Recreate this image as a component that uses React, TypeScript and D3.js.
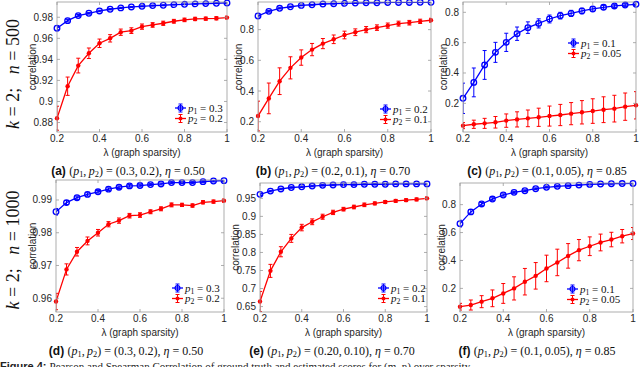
import React from 'react';
import * as d3 from 'd3';

// lambda values on the x axis
const lambdas = [0.2, 0.25, 0.3, 0.35, 0.4, 0.45, 0.5, 0.55, 0.6, 0.65, 0.7, 0.75, 0.8, 0.85, 0.9, 0.95, 1.0];
const xTicks = [0.2, 0.4, 0.6, 0.8, 1];

// (a)
const aP1 = [0.9696, 0.9768, 0.9816, 0.9838, 0.986, 0.9876, 0.9889, 0.9898, 0.9904, 0.9911, 0.9914, 0.992, 0.9923, 0.9927, 0.993, 0.9933, 0.9936];
const aP1Err = [0.0015, 0.0012, 0.001, 0.0008, 0.0007, 0.0006, 0.0006, 0.0005, 0.0005, 0.0005, 0.0005, 0.0004, 0.0004, 0.0004, 0.0004, 0.0004, 0.0004];
const aP2 = [0.8841, 0.9145, 0.9341, 0.9458, 0.9553, 0.96, 0.9658, 0.9673, 0.9711, 0.9727, 0.9743, 0.9762, 0.9775, 0.9784, 0.9787, 0.979, 0.9797];
const aP2Err = [0.0114, 0.0087, 0.007, 0.005, 0.004, 0.0035, 0.003, 0.0027, 0.0025, 0.0022, 0.002, 0.0018, 0.0017, 0.0016, 0.0015, 0.0015, 0.0014];
// (b)
const bP1 = [0.889, 0.919, 0.939, 0.949, 0.958, 0.962, 0.967, 0.969, 0.971, 0.973, 0.975, 0.975, 0.977, 0.977, 0.977, 0.978, 0.978];
const bP1Err = [0.006, 0.005, 0.004, 0.004, 0.003, 0.003, 0.003, 0.003, 0.003, 0.002, 0.002, 0.002, 0.002, 0.002, 0.002, 0.002, 0.002];
const bP2 = [0.237, 0.352, 0.464, 0.551, 0.618, 0.67, 0.709, 0.737, 0.765, 0.783, 0.8, 0.813, 0.826, 0.839, 0.845, 0.854, 0.861];
const bP2Err = [0.097, 0.1, 0.087, 0.072, 0.05, 0.04, 0.033, 0.028, 0.025, 0.022, 0.02, 0.018, 0.017, 0.016, 0.015, 0.014, 0.013];
// (c)
const cP1 = [0.233, 0.338, 0.453, 0.536, 0.602, 0.659, 0.699, 0.727, 0.756, 0.778, 0.793, 0.809, 0.822, 0.833, 0.842, 0.848, 0.853];
const cP1Err = [0.1, 0.095, 0.095, 0.066, 0.06, 0.044, 0.038, 0.03, 0.026, 0.022, 0.02, 0.018, 0.015, 0.013, 0.011, 0.009, 0.009];
const cP2 = [0.053, 0.062, 0.068, 0.075, 0.086, 0.094, 0.101, 0.108, 0.116, 0.123, 0.132, 0.141, 0.149, 0.158, 0.165, 0.178, 0.187];
const cP2Err = [0.02, 0.027, 0.033, 0.038, 0.044, 0.05, 0.055, 0.06, 0.066, 0.07, 0.073, 0.077, 0.081, 0.085, 0.088, 0.09, 0.09];
// (d)
const dP1 = [0.9864, 0.9892, 0.9907, 0.9917, 0.9925, 0.9933, 0.9939, 0.9943, 0.9944, 0.9947, 0.9949, 0.9953, 0.9953, 0.9953, 0.9956, 0.9958, 0.9959];
const dP1Err = [0.001, 0.0006, 0.0005, 0.0005, 0.0004, 0.0004, 0.0004, 0.0004, 0.0004, 0.0003, 0.0003, 0.0003, 0.0003, 0.0003, 0.0003, 0.0003, 0.0003];
const dP2 = [0.959, 0.9688, 0.9742, 0.9775, 0.98, 0.9826, 0.9837, 0.9852, 0.9854, 0.9864, 0.9873, 0.9885, 0.9885, 0.9883, 0.9893, 0.9895, 0.9898];
const dP2Err = [0.0025, 0.0017, 0.0013, 0.0012, 0.001, 0.0008, 0.0008, 0.0007, 0.0007, 0.0006, 0.0006, 0.0006, 0.0005, 0.0005, 0.0005, 0.0005, 0.0005];
// (e)
const eP1 = [0.961, 0.97, 0.976, 0.98, 0.982, 0.984, 0.986, 0.987, 0.988, 0.988, 0.989, 0.989, 0.989, 0.99, 0.99, 0.99, 0.99];
const eP1Err = [0.003, 0.002, 0.002, 0.002, 0.002, 0.002, 0.002, 0.002, 0.002, 0.002, 0.002, 0.002, 0.002, 0.002, 0.002, 0.002, 0.002];
const eP2 = [0.664, 0.749, 0.802, 0.839, 0.869, 0.885, 0.899, 0.911, 0.92, 0.926, 0.932, 0.936, 0.94, 0.943, 0.945, 0.947, 0.95];
const eP2Err = [0.028, 0.018, 0.014, 0.011, 0.009, 0.008, 0.007, 0.006, 0.005, 0.005, 0.005, 0.004, 0.004, 0.004, 0.004, 0.004, 0.004];
// (f)
const fP1 = [0.664, 0.748, 0.805, 0.84, 0.869, 0.888, 0.9, 0.914, 0.924, 0.931, 0.936, 0.94, 0.945, 0.948, 0.95, 0.951, 0.952];
const fP1Err = [0.024, 0.017, 0.01, 0.009, 0.008, 0.007, 0.006, 0.006, 0.005, 0.005, 0.005, 0.004, 0.004, 0.004, 0.004, 0.004, 0.004];
const fP2 = [0.069, 0.081, 0.105, 0.129, 0.164, 0.2, 0.248, 0.29, 0.343, 0.386, 0.433, 0.474, 0.502, 0.529, 0.55, 0.574, 0.593];
const fP2Err = [0.024, 0.036, 0.043, 0.06, 0.071, 0.083, 0.095, 0.095, 0.095, 0.095, 0.088, 0.076, 0.067, 0.06, 0.052, 0.048, 0.043];

const panelTags = ['a', 'b', 'c', 'd', 'e', 'f'];
const pairLabels = ['0.3,\u20090.2', '0.2,\u20090.1', '0.1,\u20090.05', '0.3,\u20090.2', '0.20,\u20090.10', '0.1,\u20090.05'];
const etaLabels = ['0.50', '0.70', '0.85', '0.50', '0.70', '0.85'];
const p1Labels = ['0.3', '0.2', '0.1', '0.3', '0.2', '0.1'];
const p2Labels = ['0.2', '0.1', '0.05', '0.2', '0.1', '0.05'];
const yTickSets = [
  [0.88, 0.9, 0.92, 0.94, 0.96, 0.98],
  [0.2, 0.4, 0.6, 0.8],
  [0.2, 0.4, 0.6, 0.8],
  [0.96, 0.97, 0.98, 0.99],
  [0.65, 0.7, 0.75, 0.8, 0.85, 0.9, 0.95],
  [0.2, 0.4, 0.6, 0.8],
];
const yDomains = [[0.871, 0.9945], [0.133, 0.98], [0.011, 0.868], [0.9558, 0.9961], [0.635, 0.9925], [0.031, 0.955]];
const series = [
  [aP1, aP1Err, aP2, aP2Err],
  [bP1, bP1Err, bP2, bP2Err],
  [cP1, cP1Err, cP2, cP2Err],
  [dP1, dP1Err, dP2, dP2Err],
  [eP1, eP1Err, eP2, eP2Err],
  [fP1, fP1Err, fP2, fP2Err],
];
const rowLabels = ['500', '1000'];

// layout (pixels)
const boxes = [
  { x0: 57, x1: 227, y0: 2, y1: 132, ylab: -25, lx: 175, ly: 108, cap: 128 },
  { x0: 258, x1: 431, y0: 2, y1: 132, ylab: -20, lx: 380, ly: 109, cap: 333 },
  { x0: 463, x1: 636, y0: 2, y1: 132, ylab: -20, lx: 568, ly: 43, cap: 547 },
  { x0: 56, x1: 224, y0: 180, y1: 312, ylab: -24, lx: 172, ly: 288, cap: 126 },
  { x0: 260, x1: 427, y0: 183, y1: 312, ylab: -25, lx: 378, ly: 288, cap: 332 },
  { x0: 460, x1: 633, y0: 183, y1: 312, ylab: -19, lx: 567, ly: 289, cap: 537 },
];

const BLUE = '#0000ff';
const RED = '#ff0000';
const SANS = '"Liberation Sans", Arial, sans-serif';
const SERIF = '"Liberation Serif", "Times New Roman", serif';
const AXIS = '#262626';

type Seg = { t: string; it?: boolean; sub?: boolean; bold?: boolean };

const MathText = ({ x, y, segs, size, anchor }: { x: number; y: number; segs: Seg[]; size: number; anchor?: string }) => {
  let shifted = false;
  return (
    <text x={x} y={y} fontSize={size} fontFamily={SERIF} textAnchor={anchor || 'start'} fill="#111" style={{ whiteSpace: 'pre' }}>
      {segs.map((s, i) => {
        let dy = 0;
        if (s.sub && !shifted) { dy = size * 0.22; shifted = true; }
        else if (!s.sub && shifted) { dy = -size * 0.22; shifted = false; }
        return (
          <tspan key={i} dy={dy || undefined}
            fontStyle={s.it ? 'italic' : undefined}
            fontWeight={s.bold ? 'bold' : undefined}
            fontFamily={s.bold ? SANS : undefined}
            fontSize={s.sub ? size * 0.7 : undefined}>{s.t}</tspan>
        );
      })}
    </text>
  );
};

const Panel = ({ idx }: { idx: number }) => {
  const b = boxes[idx];
  const x = d3.scaleLinear().domain([0.2, 1]).range([b.x0, b.x1]);
  const y = d3.scaleLinear().domain(yDomains[idx]).range([b.y1, b.y0]);
  const [m1, e1, m2, e2] = series[idx];
  const line = d3.line<number>().x((_, i) => x(lambdas[i])).y(d => y(d));
  const clipId = 'clip' + idx;
  const tick = 3;

  const drawSeries = (m: number[], e: number[], color: string) => (
    <g>
      <g clipPath={`url(#${clipId})`}>
        {m.map((v, i) => {
          const cx = x(lambdas[i]);
          return (
            <g key={i} stroke={color} strokeWidth={1}>
              <line x1={cx} x2={cx} y1={y(v - e[i])} y2={y(v + e[i])} />
              <line x1={cx - 2} x2={cx + 2} y1={y(v - e[i])} y2={y(v - e[i])} />
              <line x1={cx - 2} x2={cx + 2} y1={y(v + e[i])} y2={y(v + e[i])} />
            </g>
          );
        })}
        <path d={line(m) || ''} fill="none" stroke={color} strokeWidth={1.3} />
      </g>
      {m.map((v, i) => color === BLUE
        ? <circle key={i} cx={x(lambdas[i])} cy={y(v)} r={2.8} fill="none" stroke={color} strokeWidth={1.3} />
        : <circle key={i} cx={x(lambdas[i])} cy={y(v)} r={2.2} fill={color} />)}
    </g>
  );

  const legendItem = (ly: number, color: string, sub: string, val: string) => (
    <g>
      <line x1={b.lx} x2={b.lx + 11} y1={ly} y2={ly} stroke={color} strokeWidth={1.3} />
      <line x1={b.lx + 5.5} x2={b.lx + 5.5} y1={ly - 4} y2={ly + 4} stroke={color} strokeWidth={1} />
      <line x1={b.lx + 3.5} x2={b.lx + 7.5} y1={ly - 4} y2={ly - 4} stroke={color} strokeWidth={1} />
      <line x1={b.lx + 3.5} x2={b.lx + 7.5} y1={ly + 4} y2={ly + 4} stroke={color} strokeWidth={1} />
      {color === BLUE
        ? <circle cx={b.lx + 5.5} cy={ly} r={2.4} fill="none" stroke={color} strokeWidth={1.2} />
        : <circle cx={b.lx + 5.5} cy={ly} r={2} fill={color} />}
      <MathText x={b.lx + 13} y={ly + 3.5} size={11}
        segs={[{ t: 'p', it: true }, { t: sub, sub: true }, { t: ' = ' + val }]} />
    </g>
  );

  const midY = (b.y0 + b.y1) / 2;
  const tag = panelTags[idx];
  return (
    <g>
      <defs>
        <clipPath id={clipId}><rect x={b.x0} y={b.y0} width={b.x1 - b.x0} height={b.y1 - b.y0} /></clipPath>
      </defs>
      <rect x={b.x0} y={b.y0} width={b.x1 - b.x0} height={b.y1 - b.y0} fill="#fff" />
      {drawSeries(m1, e1, BLUE)}
      {drawSeries(m2, e2, RED)}
      {/* box and ticks */}
      <rect x={b.x0} y={b.y0} width={b.x1 - b.x0} height={b.y1 - b.y0} fill="none" stroke="#9a9a9a" strokeWidth={0.8} />
      {xTicks.map(t => (
        <g key={'x' + t} stroke="#9a9a9a" strokeWidth={0.8}>
          <line x1={x(t)} x2={x(t)} y1={b.y1} y2={b.y1 - tick} />
          <line x1={x(t)} x2={x(t)} y1={b.y0} y2={b.y0 + tick} />
        </g>
      ))}
      {yTickSets[idx].map(t => (
        <g key={'y' + t} stroke="#9a9a9a" strokeWidth={0.8}>
          <line x1={b.x0} x2={b.x0 + tick} y1={y(t)} y2={y(t)} />
          <line x1={b.x1} x2={b.x1 - tick} y1={y(t)} y2={y(t)} />
        </g>
      ))}
      {xTicks.map(t => (
        <text key={'xl' + t} x={x(t)} y={b.y1 + 10} fontSize={10} fontFamily={SANS} fill={AXIS} textAnchor="middle">{String(t)}</text>
      ))}
      {yTickSets[idx].map(t => (
        <text key={'yl' + t} x={b.x0 - 4} y={y(t) + 3.5} fontSize={10} fontFamily={SANS} fill={AXIS} textAnchor="end">{String(t)}</text>
      ))}
      <text x={(b.x0 + b.x1) / 2} y={b.y1 + 23.5} fontSize={10} fontFamily={SANS} fill={AXIS} textAnchor="middle">λ (graph sparsity)</text>
      <text transform={`translate(${b.x0 + b.ylab},${midY}) rotate(-90)`} dy="0.35em" fontSize={10} fontFamily={SANS} fill={AXIS} textAnchor="middle">correlation</text>
      {legendItem(b.ly, BLUE, '1', p1Labels[idx])}
      {legendItem(b.ly + 10.5, RED, '2', p2Labels[idx])}
      <MathText x={b.cap} y={b.y1 + 42.5} size={12} anchor="middle"
        segs={[
          { t: '(' + tag + ') ', bold: true },
          { t: '(' }, { t: 'p', it: true }, { t: '1', sub: true }, { t: ',\u2009' }, { t: 'p', it: true }, { t: '2', sub: true },
          { t: ') = (' + pairLabels[idx] + '), ' }, { t: 'η', it: true }, { t: ' = ' + etaLabels[idx] },
        ]} />
    </g>
  );
};

export default function App() {
  return (
    <svg width={640} height={367} style={{ position: 'absolute', left: 0, top: 0, background: '#fff' }}>
      <rect width={640} height={367} fill="#fff" />
      {rowLabels.map((n, r) => (
        <text key={n} transform={`translate(19,${r === 0 ? 74 : 250}) rotate(-90)`} fontSize={18} fontFamily={SERIF} textAnchor="middle" fill="#111" style={{ whiteSpace: 'pre' }}>
          <tspan fontStyle="italic">k</tspan><tspan>{' = 2;   '}</tspan><tspan fontStyle="italic">n</tspan><tspan>{' = ' + n}</tspan>
        </text>
      ))}
      {boxes.map((_, i) => <Panel key={i} idx={i} />)}
      <text x={0} y={370} fontSize={11} fontFamily={SERIF} fill="#222">
        <tspan fontFamily={SANS} fontWeight="bold">Figure 4: </tspan>
        <tspan>Pearson and Spearman Correlation of ground truth and estimated scores for (m, n) over sparsity</tspan>
      </text>
    </svg>
  );
}
